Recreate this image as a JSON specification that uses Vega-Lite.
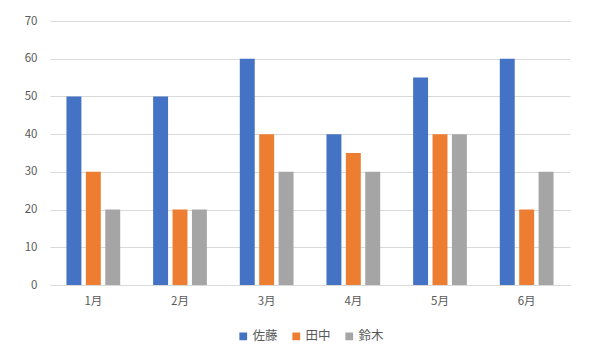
{
  "$schema": "https://vega.github.io/schema/vega-lite/v6.json",
  "width": 520,
  "height": 264,
  "autosize": "none",
  "padding": {"left": 50, "top": 21, "right": 30, "bottom": 75},
  "background": "white",
  "config": {
    "font": "Noto Sans CJK JP",
    "view": {"stroke": null},
    "axis": {"labelColor": "#595959", "labelFontSize": 11.5, "titleColor": "#595959"},
    "legend": {"labelColor": "#595959", "labelFontSize": 12.5}
  },
  "data": {
    "values": [
      {"month": "1月", "name": "佐藤", "value": 50},
      {"month": "1月", "name": "田中", "value": 30},
      {"month": "1月", "name": "鈴木", "value": 20},
      {"month": "2月", "name": "佐藤", "value": 50},
      {"month": "2月", "name": "田中", "value": 20},
      {"month": "2月", "name": "鈴木", "value": 20},
      {"month": "3月", "name": "佐藤", "value": 60},
      {"month": "3月", "name": "田中", "value": 40},
      {"month": "3月", "name": "鈴木", "value": 30},
      {"month": "4月", "name": "佐藤", "value": 40},
      {"month": "4月", "name": "田中", "value": 35},
      {"month": "4月", "name": "鈴木", "value": 30},
      {"month": "5月", "name": "佐藤", "value": 55},
      {"month": "5月", "name": "田中", "value": 40},
      {"month": "5月", "name": "鈴木", "value": 40},
      {"month": "6月", "name": "佐藤", "value": 60},
      {"month": "6月", "name": "田中", "value": 20},
      {"month": "6月", "name": "鈴木", "value": 30}
    ]
  },
  "mark": {"type": "bar"},
  "encoding": {
    "x": {
      "field": "month",
      "type": "nominal",
      "sort": null,
      "scale": {"paddingInner": 0.38, "paddingOuter": 0.19},
      "axis": {"title": null, "labelAngle": 0, "ticks": false, "domainColor": "#D9D9D9", "labelPadding": 10}
    },
    "xOffset": {
      "field": "name",
      "type": "nominal",
      "sort": ["佐藤", "田中", "鈴木"],
      "scale": {"paddingInner": 0.23, "paddingOuter": 0}
    },
    "y": {
      "field": "value",
      "type": "quantitative",
      "scale": {"domain": [0, 70], "nice": false},
      "axis": {"title": null, "values": [0,10,20,30,40,50,60,70], "labelOverlap": false, "domain": false, "ticks": false, "gridColor": "#D9D9D9", "labelPadding": 13}
    },
    "color": {
      "field": "name",
      "type": "nominal",
      "sort": ["佐藤", "田中", "鈴木"],
      "scale": {"domain": ["佐藤", "田中", "鈴木"], "range": ["#4472C4", "#ED7D31", "#A5A5A5"]},
      "legend": {"title": null, "orient": "none", "legendX": 187, "legendY": 309, "direction": "horizontal", "symbolType": "square", "symbolSize": 60, "symbolStrokeWidth": 0, "columnPadding": 12, "labelOffset": 3}
    }
  }
}
